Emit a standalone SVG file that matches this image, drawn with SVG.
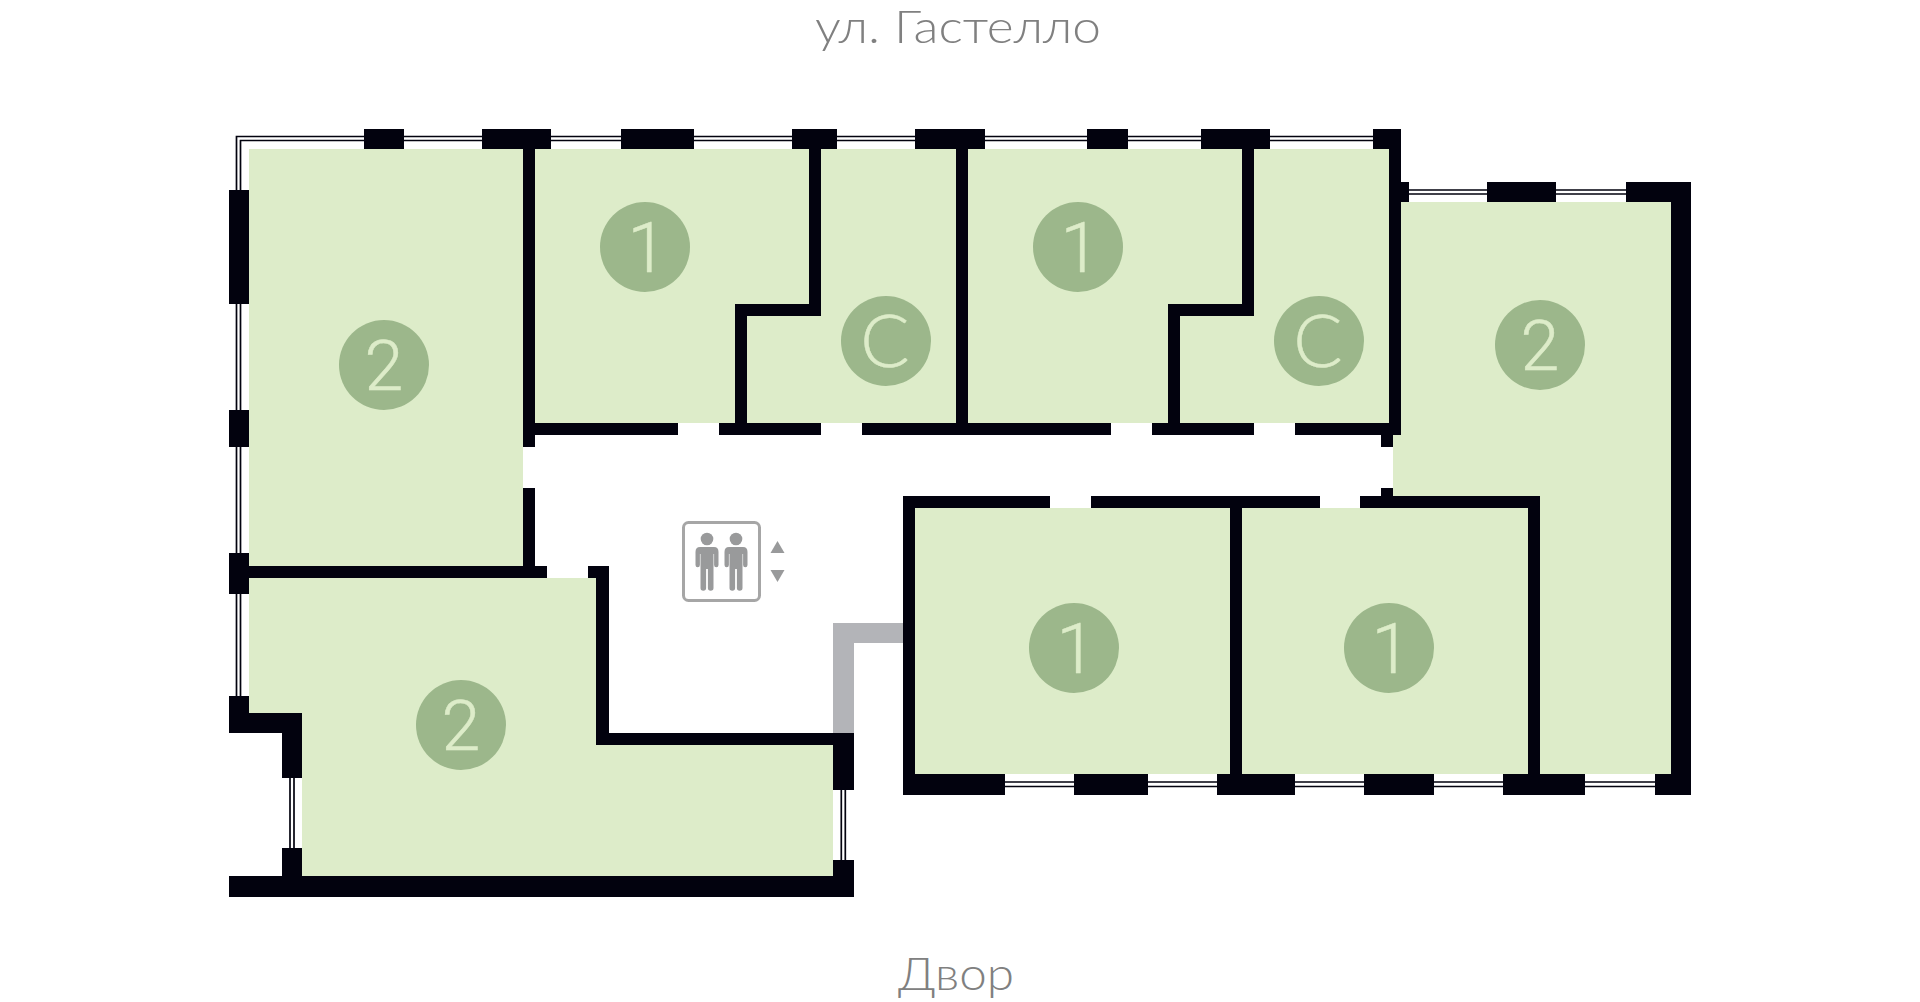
<svg xmlns="http://www.w3.org/2000/svg" width="1920" height="1002" viewBox="0 0 1920 1002">
<style>
.room{fill:#ddecc9}
.badge{fill:#9cb78b}
.num{fill:#ddecc9;stroke:#ddecc9;stroke-width:.5;font-family:"Roboto","Noto Sans",sans-serif;font-weight:300;font-size:70px;text-anchor:middle}
.letter{font-family:"Lato","Noto Sans",sans-serif;font-size:73px}
.wall{fill:#02020e}
.glass{fill:none;stroke:#02020e;stroke-width:1.7}
.street{fill:#808080;font-family:"Lato","Noto Sans",sans-serif;font-weight:300;font-size:46px;text-anchor:middle}
.icon{fill:#999a9b}
</style>
<defs>
<g id="person">
<circle cx="0" cy="539" r="6.3"/>
<path d="M-7,547H7Q11.5,547 11.5,552V565a2.2,2.2 0 0 1-4.4,0V554H6.5V588a2.6,2.6 0 0 1-5.6,0V569H-.9V588a2.6,2.6 0 0 1-5.6,0V554H-7.1V565a2.2,2.2 0 0 1-4.4,0V552Q-11.5,547-7,547Z"/>
</g>
</defs>
<rect width="1920" height="1002" fill="#fff"/>
<g id="rooms">
<rect class="room" x="249" y="149" width="274" height="417"/>
<polygon class="room" points="249,578 596,578 596,745 833,745 833,876 302,876 302,713 249,713"/>
<rect class="room" x="535" y="149" width="854" height="274"/>
<polygon class="room" points="1401,202 1671,202 1671,774 1540,774 1540,496 1393,496 1393,435 1401,435"/>
<rect class="room" x="915" y="508" width="613" height="266"/>
</g>
<g id="glazing">
<path class="glass" d="M1373,136.5H236.5V696M1373,140.5H240.5V696"/>
<path class="glass" d="M1409,190H1626M1409,194H1626"/>
<path class="glass" d="M1005,782H1655M1005,786.5H1655"/>
<path class="glass" d="M290,778V848M294,778V848"/>
<path class="glass" d="M841.3,790V860M845.3,790V860"/>
</g>
<g id="walls" class="wall">
<rect x="364" y="129" width="40" height="20"/>
<rect x="482" y="129" width="69" height="20"/>
<rect x="621" y="129" width="73" height="20"/>
<rect x="792" y="129" width="45" height="20"/>
<rect x="915" y="129" width="70" height="20"/>
<rect x="1087" y="129" width="41" height="20"/>
<rect x="1201" y="129" width="69" height="20"/>
<rect x="1373" y="129" width="28" height="20"/>
<rect x="1389" y="129" width="12" height="306"/>
<rect x="1381" y="435" width="12" height="12"/>
<rect x="1381" y="488" width="12" height="8"/>
<rect x="1401" y="182" width="8" height="20"/>
<rect x="1487" y="182" width="69" height="20"/>
<rect x="1626" y="182" width="65" height="20"/>
<rect x="1671" y="182" width="20" height="613"/>
<rect x="1655" y="774" width="36" height="21"/>
<rect x="1217" y="774" width="78" height="21"/>
<rect x="1364" y="774" width="70" height="21"/>
<rect x="1503" y="774" width="82" height="21"/>
<rect x="903" y="774" width="102" height="21"/>
<rect x="1074" y="774" width="74" height="21"/>
<rect x="229" y="190" width="20" height="114"/>
<rect x="229" y="410" width="20" height="37"/>
<rect x="229" y="553" width="20" height="41"/>
<rect x="229" y="696" width="20" height="37"/>
<rect x="229" y="713" width="73" height="20"/>
<rect x="282" y="713" width="20" height="65"/>
<rect x="282" y="848" width="20" height="28"/>
<rect x="229" y="876" width="625" height="21"/>
<rect x="833" y="733" width="21" height="57"/>
<rect x="833" y="860" width="21" height="37"/>
<rect x="523" y="149" width="12" height="298"/>
<rect x="523" y="488" width="12" height="90"/>
<rect x="249" y="566" width="298" height="12"/>
<rect x="588" y="566" width="21" height="12"/>
<rect x="596" y="566" width="13" height="179"/>
<rect x="596" y="733" width="258" height="12"/>
<rect x="535" y="423" width="143" height="12"/>
<rect x="719" y="423" width="102" height="12"/>
<rect x="862" y="423" width="249" height="12"/>
<rect x="1152" y="423" width="102" height="12"/>
<rect x="1295" y="423" width="106" height="12"/>
<rect x="809" y="149" width="12" height="167"/>
<rect x="735" y="304" width="86" height="12"/>
<rect x="735" y="304" width="12" height="119"/>
<rect x="956" y="149" width="12" height="286"/>
<rect x="1242" y="149" width="12" height="167"/>
<rect x="1168" y="304" width="86" height="12"/>
<rect x="1168" y="304" width="12" height="119"/>
<rect x="903" y="496" width="147" height="12"/>
<rect x="1091" y="496" width="229" height="12"/>
<rect x="1360" y="496" width="180" height="12"/>
<rect x="903" y="496" width="12" height="299"/>
<rect x="1230" y="496" width="12" height="278"/>
<rect x="1528" y="496" width="12" height="278"/>
</g>
<path id="shaft" d="M833,733V623H903V643H854V733Z" fill="#b3b4b8"/>
<g id="unit-2a"><circle class="badge" cx="384" cy="365" r="45"/><text class="num" x="384" y="390">2</text></g>
<g id="unit-1a"><circle class="badge" cx="645" cy="247" r="45"/><text class="num" x="647" y="272">1</text></g>
<g id="unit-ca"><circle class="badge" cx="886" cy="341" r="45"/><text class="num letter" x="885" y="367">С</text></g>
<g id="unit-1b"><circle class="badge" cx="1078" cy="247" r="45"/><text class="num" x="1080" y="272">1</text></g>
<g id="unit-cb"><circle class="badge" cx="1319" cy="341" r="45"/><text class="num letter" x="1318" y="367">С</text></g>
<g id="unit-2b"><circle class="badge" cx="1540" cy="345" r="45"/><text class="num" x="1540" y="370">2</text></g>
<g id="unit-2c"><circle class="badge" cx="461" cy="725" r="45"/><text class="num" x="461" y="750">2</text></g>
<g id="unit-1c"><circle class="badge" cx="1074" cy="648" r="45"/><text class="num" x="1076" y="673">1</text></g>
<g id="unit-1d"><circle class="badge" cx="1389" cy="648" r="45"/><text class="num" x="1391" y="673">1</text></g>
<g id="elevator">
<rect x="683.5" y="522.5" width="76" height="78" rx="5" fill="#fff" stroke="#a6a6a6" stroke-width="3"/>
<use href="#person" x="707" class="icon"/>
<use href="#person" x="736" class="icon"/>
<polygon class="icon" points="777.5,541 784.5,553 770.5,553"/>
<polygon class="icon" points="770.5,570 784.5,570 777.5,582"/>
</g>
<text class="street" x="958" y="43" textLength="286" lengthAdjust="spacingAndGlyphs">ул. Гастелло</text>
<text class="street" x="956" y="990" textLength="116" lengthAdjust="spacingAndGlyphs">Двор</text>
</svg>
